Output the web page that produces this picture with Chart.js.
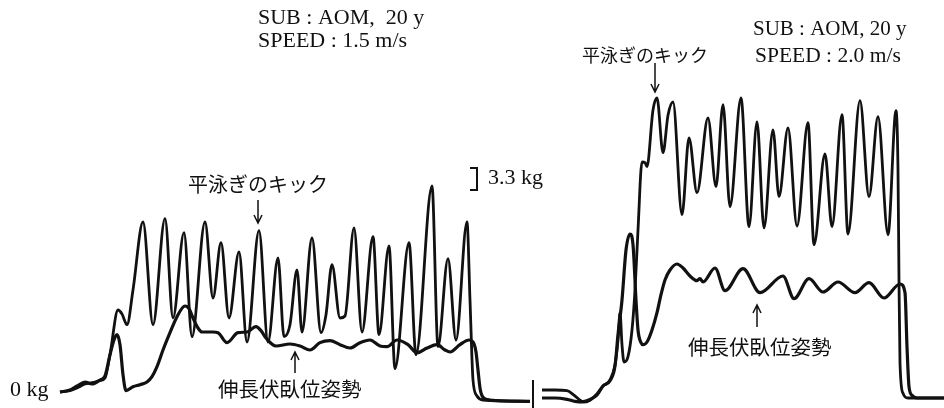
<!DOCTYPE html>
<html>
<head>
<meta charset="utf-8">
<script src="https://cdn.jsdelivr.net/npm/chart.js@4/dist/chart.umd.min.js"></script>
<style>
  html, body { margin: 0; padding: 0; background: #fff; }
  #wrap { width: 944px; height: 408px; }
</style>
</head>
<body>
<div id="wrap"><canvas id="myChart" width="944" height="408"></canvas></div>
<script>
// traces: t = recording position, kg = towing force

// SPEED 1.5 m/s - breaststroke kick
var kick15T  = [60, 70, 77, 85, 92, 100, 105, 110, 118, 122, 127, 133, 143, 153, 165, 173, 184, 192, 205, 213, 221, 229, 239, 247, 259, 268, 278, 284, 290, 297, 302, 312, 321, 326, 332, 340, 345, 354, 362, 373, 379, 389, 395, 409, 416, 432, 438, 448, 456, 467, 470, 473, 477, 483, 530];
var kick15Kg = [0, 0.2, 0.6, 1.2, 1.4, 1.7, 2.1, 5.6, 12.3, 11.7, 10.1, 15.3, 25.5, 10.1, 26.0, 11.1, 23.9, 8.3, 25.5, 14.1, 22.4, 11.1, 21.0, 7.5, 24.2, 7.5, 20.1, 8.3, 10.1, 18.3, 9.0, 23.1, 8.9, 11.6, 19.1, 11.1, 11.4, 24.6, 9.0, 23.3, 8.6, 21.9, 3.5, 22.4, 5.6, 30.9, 6.8, 20.0, 7.8, 25.5, 13.8, 1.8, -0.6, -1.2, -1.4];

// SPEED 1.5 m/s - streamlined prone glide
var glide15T  = [60, 70, 77, 85, 92, 100, 105, 110, 114, 117, 120, 123, 126, 133, 140, 147, 152, 157, 163, 170, 177, 185, 189, 193, 198, 202, 213, 218, 227, 238, 247, 256, 261, 266, 276, 290, 300, 310, 320, 330, 340, 350, 360, 370, 380, 387, 397, 408, 417, 427, 437, 445, 450, 460, 469, 473, 476, 478, 480, 483, 490, 530];
var glide15Kg = [0, 0.3, 0.9, 1.5, 1.2, 1.8, 2.4, 5.6, 7.8, 8.6, 7.1, 2.6, 0.2, 0.8, 1.1, 1.5, 2.3, 3.8, 6.3, 8.9, 11.3, 12.9, 12.5, 11.1, 9.6, 9.0, 9.0, 8.9, 7.4, 8.9, 9.0, 9.8, 9.2, 8.1, 6.9, 7.2, 6.9, 6.3, 7.4, 7.7, 7.1, 6.6, 7.4, 7.8, 6.9, 6.8, 7.8, 7.1, 5.9, 6.6, 7.1, 6.3, 6.0, 7.1, 7.8, 7.5, 6.0, 3.3, 0.6, -0.8, -1.2, -1.4];

// SPEED 2.0 m/s - breaststroke kick
var kick20T  = [542, 555, 567, 575, 583, 590, 597, 603, 610, 615, 618, 620, 622, 624, 628, 632, 635, 638, 642, 645, 647, 653, 657, 663, 668, 673, 682, 689, 697, 708, 716, 723, 730, 741, 749, 757, 764, 773, 779, 788, 797, 808, 814, 825, 832, 842, 848, 860, 869, 878, 888, 896, 898, 899, 900, 903, 908, 944];
var kick20Kg = [0.3, 0.3, 0.2, -0.6, -1.4, -1.1, -0.5, 0.9, 1.8, 4.1, 7.8, 11.9, 7.1, 4.5, 5.3, 9.3, 15.3, 24.3, 34.5, 34.4, 33.8, 42.3, 44.1, 35.9, 41.5, 43.5, 26.6, 38.1, 29.9, 41.1, 30.8, 43.1, 27.8, 44.1, 24.8, 40.5, 24.6, 39.3, 29.3, 39.6, 24.9, 40.4, 22.1, 35.7, 24.8, 41.6, 23.7, 43.7, 29.3, 41.3, 23.6, 42.2, 33.3, 16.8, 4.4, -0.2, -0.9, -0.9];

// SPEED 2.0 m/s - streamlined prone glide
var glide20T  = [542, 555, 567, 575, 583, 590, 597, 603, 610, 615, 618, 622, 626, 630, 633, 636, 638, 641, 643, 647, 652, 657, 661, 665, 670, 677, 683, 690, 697, 700, 703, 715, 725, 743, 760, 783, 794, 809, 823, 838, 855, 869, 884, 900, 905, 907, 909, 912, 917, 944];
var glide20Kg = [-0.9, -0.9, -1.1, -1.4, -1.5, -1.2, -0.3, 0.9, 1.7, 3.9, 8.6, 13.8, 21.3, 23.7, 22.1, 13.8, 9.3, 7.4, 7.1, 7.5, 9.3, 11.9, 14.6, 16.8, 18.3, 19.2, 18.6, 17.4, 16.7, 17.0, 16.5, 18.6, 15.2, 18.5, 14.9, 17.4, 14.0, 17.0, 15.0, 16.5, 14.9, 16.4, 14.1, 16.2, 14.9, 6.8, 0.8, -0.5, -0.9, -0.9];

var seriesNames = ['平泳ぎのキック 1.5', '伸長伏臥位姿勢 1.5', '平泳ぎのキック 2.0', '伸長伏臥位姿勢 2.0'];

const toPoints = (ts, vs) => ts.map((t, i) => ({ x: t, y: vs[i] }));

const serif = '"Liberation Serif", "DejaVu Serif", serif';
const jp = '"Noto Sans CJK JP", "Noto Sans CJK SC", sans-serif';

// text and marks printed on the figure (pixel positions on the canvas)
const notes = [
  { text: 'SUB : AOM,  20 y', x: 258, y: 24, font: '22px ' + serif },
  { text: 'SPEED : 1.5 m/s', x: 258, y: 47, font: '22px ' + serif },
  { text: 'SUB : AOM, 20 y', x: 753, y: 35, font: '21px ' + serif },
  { text: 'SPEED : 2.0 m/s', x: 755, y: 62, font: '21.5px ' + serif },
  { text: '平泳ぎのキック', x: 188, y: 192, font: '20px ' + jp },
  { text: '平泳ぎのキック', x: 582, y: 62, font: '18px ' + jp },
  { text: '伸長伏臥位姿勢', x: 218, y: 397, font: '20.5px ' + jp },
  { text: '伸長伏臥位姿勢', x: 688, y: 355, font: '20.5px ' + jp },
  { text: '3.3 kg', x: 488, y: 184, font: '22px ' + serif },
  { text: '0 kg', x: 10, y: 396, font: '22px ' + serif }
];
const arrows = [
  { x: 258, from: 200, to: 223 },
  { x: 655, from: 63, to: 92 },
  { x: 295, from: 373, to: 352 },
  { x: 757, from: 327, to: 305 }
];

const figureText = {
  id: 'figureText',
  afterDraw(chart) {
    const ctx = chart.ctx;
    ctx.save();
    ctx.fillStyle = '#111';
    ctx.strokeStyle = '#111';
    ctx.textBaseline = 'alphabetic';
    ctx.textAlign = 'left';
    notes.forEach(n => {
      ctx.font = n.font;
      ctx.fillText(n.text, n.x, n.y);
    });
    // arrows
    ctx.lineWidth = 1.5;
    arrows.forEach(a => {
      const dir = a.to > a.from ? 1 : -1;
      ctx.beginPath();
      ctx.moveTo(a.x, a.from);
      ctx.lineTo(a.x, a.to);
      ctx.moveTo(a.x - 4, a.to - dir * 8);
      ctx.lineTo(a.x, a.to);
      ctx.lineTo(a.x + 4, a.to - dir * 8);
      ctx.stroke();
    });
    // 3.3 kg scale bracket
    ctx.lineWidth = 2;
    ctx.beginPath();
    ctx.moveTo(470, 168);
    ctx.lineTo(477, 168);
    ctx.lineTo(477, 190);
    ctx.lineTo(470, 190);
    ctx.stroke();
    // separator tick between the two recordings
    ctx.beginPath();
    ctx.moveTo(533, 380);
    ctx.lineTo(533, 408);
    ctx.stroke();
    ctx.restore();
  }
};

var ctx = document.getElementById('myChart').getContext('2d');
var lineStyle = {
  borderColor: '#111',
  pointRadius: 0,
  fill: false,
  cubicInterpolationMode: 'monotone'
};

var chart = new Chart(ctx, {
  type: 'line',
  data: {
    datasets: [
      Object.assign({ label: seriesNames[0], data: toPoints(kick15T, kick15Kg), borderWidth: 2.8 }, lineStyle),
      Object.assign({ label: seriesNames[1], data: toPoints(glide15T, glide15Kg), borderWidth: 3.2 }, lineStyle),
      Object.assign({ label: seriesNames[2], data: toPoints(kick20T, kick20Kg), borderWidth: 2.8 }, lineStyle),
      Object.assign({ label: seriesNames[3], data: toPoints(glide20T, glide20Kg), borderWidth: 3.2 }, lineStyle)
    ]
  },
  options: {
    responsive: false,
    animation: false,
    devicePixelRatio: 1,
    layout: { padding: 0 },
    plugins: { legend: { display: false }, tooltip: { enabled: false } },
    scales: {
      x: { type: 'linear', min: 0, max: 944, display: false },
      y: { min: -2.4, max: 58.8, display: false }
    }
  },
  plugins: [figureText]
});
</script>
</body>
</html>
